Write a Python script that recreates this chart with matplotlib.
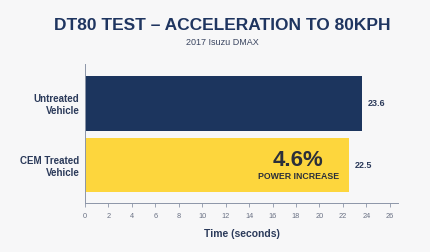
import matplotlib
matplotlib.use("Agg")
import matplotlib.pyplot as plt

plt.rcParams['font.family'] = ['Liberation Sans', 'DejaVu Sans']

categories = ["Untreated\nVehicle", "CEM Treated\nVehicle"]
times = [23.6, 22.5]
value_labels = ["23.6", "22.5"]
xticks = list(range(0, 27, 2))

navy = "#1c355e"
yellow = "#fdd63d"
bg = "#f7f7f8"
text_col = "#2b3a5a"
axis_col = "#8c95a8"

fig = plt.figure(figsize=(4.3, 2.52), dpi=100, facecolor=bg)
ax = fig.add_axes([0.1977, 0.1944, 0.7279, 0.5516])
ax.set_facecolor(bg)

pos = [0, 1]
ax.barh(pos, times, height=0.89, color=[navy, yellow])
ax.set_ylim(1.618, -0.642)
ax.set_xlim(0, 26.7)

ax.set_yticks(pos)
ax.set_yticklabels(categories, fontsize=7, fontweight='bold', color=text_col,
                   linespacing=1.25)
ax.tick_params(axis='y', length=0, pad=4)

ax.set_xticks(xticks)
ax.set_xticklabels([str(t) for t in xticks], fontsize=5.3, color="#6b7285")
ax.tick_params(axis='x', length=3, width=0.6, color=axis_col, pad=4)

for s in ['top', 'right']:
    ax.spines[s].set_visible(False)
for s in ['left', 'bottom']:
    ax.spines[s].set_color(axis_col)
    ax.spines[s].set_linewidth(0.7)

for p, t, lab in zip(pos, times, value_labels):
    ax.text(t + 0.5, p, lab, va='center', ha='left', fontsize=6.5,
            fontweight='bold', color=text_col)

ax.text(18.2, 0.93, "4.6%", ha='center', va='center', fontsize=16,
        fontweight='bold', color="#2b2f3a")
ax.text(18.2, 1.18, "POWER INCREASE", ha='center', va='center', fontsize=6.3,
        fontweight='bold', color="#2b2f3a")

ax.set_xlabel("Time (seconds)", fontsize=7.5, fontweight='bold', color=text_col,
              labelpad=7)

fig.text(0.516, 1 - 26 / 252, "DT80 TEST \u2013 ACCELERATION TO 80KPH",
         ha='center', va='center', fontsize=12.5, fontweight='bold', color="#1f3560")
fig.text(0.516, 1 - 42.5 / 252, "2017 Isuzu DMAX", ha='center', va='center',
         fontsize=6.5, color="#3a4560")

fig.savefig("out.png", dpi=100, facecolor=bg)
